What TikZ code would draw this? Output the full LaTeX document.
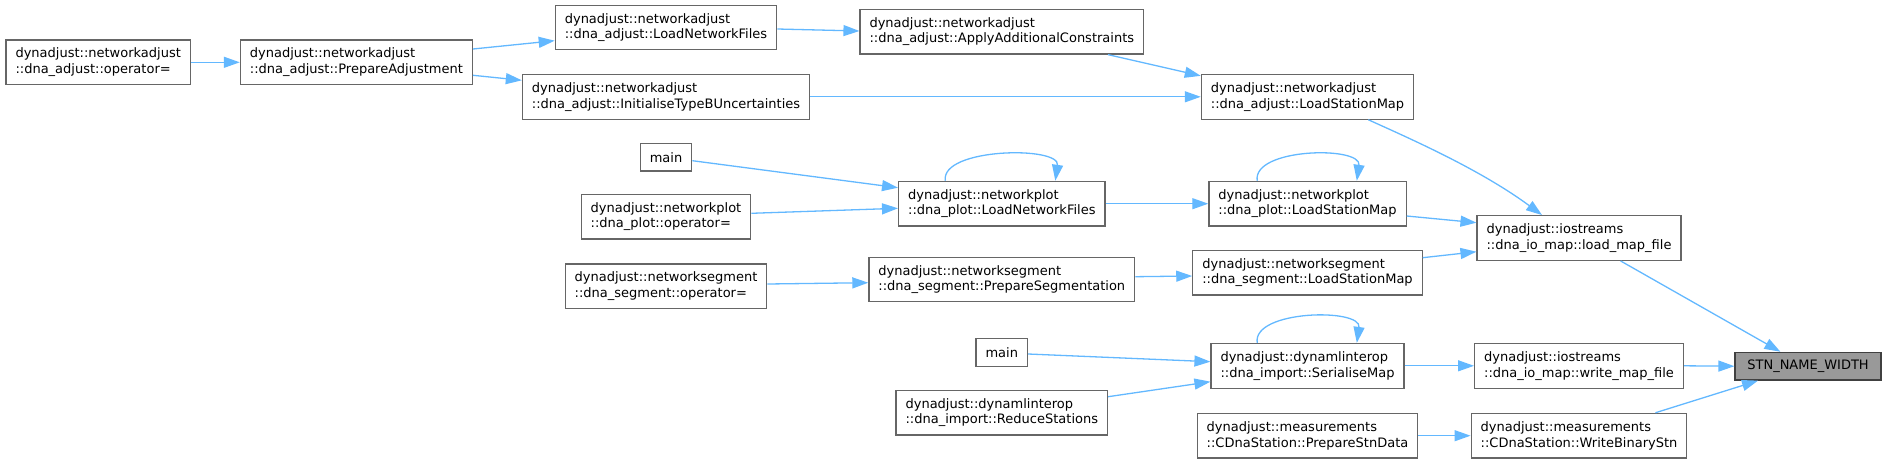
\documentclass[tikz,border=0pt]{standalone}
\usepackage{fontspec}
\setmainfont{DejaVu Sans}
\usetikzlibrary{arrows.meta}
\definecolor{edgeblue}{HTML}{63B8FF}
\definecolor{boxgray}{HTML}{666666}
\definecolor{stnfill}{HTML}{999999}
\definecolor{stnborder}{HTML}{404040}
\begin{document}
\begin{tikzpicture}[x=1pt,y=-1pt,
  fn/.style={draw=boxgray, fill=white, line width=1.2pt, font=\fontsize{13pt}{15.6pt}\selectfont, align=left, inner xsep=9.5pt, inner ysep=3pt, minimum height=44.7pt},
  fnone/.style={fn, minimum height=27.7pt},
  rootnode/.style={fnone, fill=stnfill, draw=stnborder, minimum width=146pt},
  edge/.style={draw=edgeblue, line width=1.3pt, -{Triangle[length=16pt,width=11pt]}},
]
\useasboundingbox (0,0) rectangle (1886,463);
% nodes
\node[fn] (n1) at (98.2,62.3) {dynadjust::networkadjust\\::dna\_adjust::operator=};
\node[fn] (n2) at (356.4,62.3) {dynadjust::networkadjust\\::dna\_adjust::PrepareAdjustment};
\node[fn] (n3) at (666,27.5) {dynadjust::networkadjust\\::dna\_adjust::LoadNetworkFiles};
\node[fn] (n4) at (666,96.8) {dynadjust::networkadjust\\::dna\_adjust::InitialiseTypeBUncertainties};
\node[fn] (n5) at (1001.8,31.7) {dynadjust::networkadjust\\::dna\_adjust::ApplyAdditionalConstraints};
\node[fn] (n6) at (1307.5,96.8) {dynadjust::networkadjust\\::dna\_adjust::LoadStationMap};
\node[fnone] (mp) at (666,157.2) {main};
\node[fn] (n8) at (666,216.7) {dynadjust::networkplot\\::dna\_plot::operator=};
\node[fn] (n9) at (1001.8,203.7) {dynadjust::networkplot\\::dna\_plot::LoadNetworkFiles};
\node[fn] (n10) at (1307.5,203.7) {dynadjust::networkplot\\::dna\_plot::LoadStationMap};
\node[fn] (n11) at (666,286.3) {dynadjust::networksegment\\::dna\_segment::operator=};
\node[fn] (n12) at (1001.8,279.5) {dynadjust::networksegment\\::dna\_segment::PrepareSegmentation};
\node[fn] (n13) at (1307.5,272.7) {dynadjust::networksegment\\::dna\_segment::LoadStationMap};
\node[fn] (n14) at (1579,238) {dynadjust::iostreams\\::dna\_io\_map::load\_map\_file};
\node[fnone] (mi) at (1001.8,352.7) {main};
\node[fn] (n16) at (1307.5,365.8) {dynadjust::dynamlinterop\\::dna\_import::SerialiseMap};
\node[fn] (n17) at (1001.8,412.7) {dynadjust::dynamlinterop\\::dna\_import::ReduceStations};
\node[fn] (n18) at (1579,365.8) {dynadjust::iostreams\\::dna\_io\_map::write\_map\_file};
\node[rootnode] (stn) at (1808,366.2) {STN\_NAME\_WIDTH};
\node[fn] (n20) at (1307.5,435.7) {dynadjust::measurements\\::CDnaStation::PrepareStnData};
\node[fn] (n21) at (1579,435.7) {dynadjust::measurements\\::CDnaStation::WriteBinaryStn};
% edges
\draw[edge] (n1.east) -- (n2.west);
\draw[edge] ([yshift=13.3pt]n2.east) -- ([yshift=-13.2pt]n3.west);
\draw[edge] ([yshift=-13pt]n2.east) -- ([yshift=16.5pt]n4.west);
\draw[edge] ([yshift=-1.5pt]n3.east) -- ([yshift=0.7pt]n5.west);
\draw[edge] (n4.east) -- (n6.west);
\draw[edge] ([xshift=106.2pt]n5.south) -- ([yshift=-2pt]n6.north west);
\draw[edge] ([xshift=60.8pt]n6.south) .. controls +(42,19) and +(-62,-45.7) .. ([xshift=-37pt]n14.north);
\draw[edge] ([yshift=-3.5pt]mp.east) -- ([yshift=16pt]n9.west);
\draw[edge] ([yshift=3.4pt]n8.east) -- ([yshift=-4.6pt]n9.west);
\draw[edge] ([xshift=-56.5pt]n9.north) .. controls +(-5,-33) and +(5,-35) .. ([xshift=53.5pt]n9.north);
\draw[edge] (n9.east) -- (n10.west);
\draw[edge] ([xshift=-50.3pt]n10.north) .. controls +(-5,-33) and +(5,-35) .. ([xshift=49.3pt]n10.north);
\draw[edge] ([yshift=-12.3pt]n10.east) -- ([yshift=15.3pt]n14.west);
\draw[edge] ([yshift=2.3pt]n11.east) -- ([yshift=-3.2pt]n12.west);
\draw[edge] ([yshift=2.8pt]n12.east) -- ([yshift=-3.3pt]n13.west);
\draw[edge] ([yshift=15pt]n13.east) -- ([yshift=-13.7pt]n14.west);
\draw[edge] ([xshift=41.6pt]n14.south) -- ([xshift=-27.6pt]stn.north);
\draw[edge] ([yshift=-1.3pt]mi.east) -- ([yshift=4.1pt]n16.west);
\draw[edge] ([yshift=16pt]n17.east) -- ([yshift=-15.9pt]n16.west);
\draw[edge] ([xshift=-50.3pt]n16.north) .. controls +(-5,-33) and +(5,-35) .. ([xshift=49.3pt]n16.north);
\draw[edge] (n16.east) -- (n18.west);
\draw[edge] (n18.east) -- (stn.west);
\draw[edge] (n20.east) -- (n21.west);
\draw[edge] ([xshift=76.4pt]n21.north) -- ([xshift=-50pt]stn.south);
\end{tikzpicture}
\end{document}
